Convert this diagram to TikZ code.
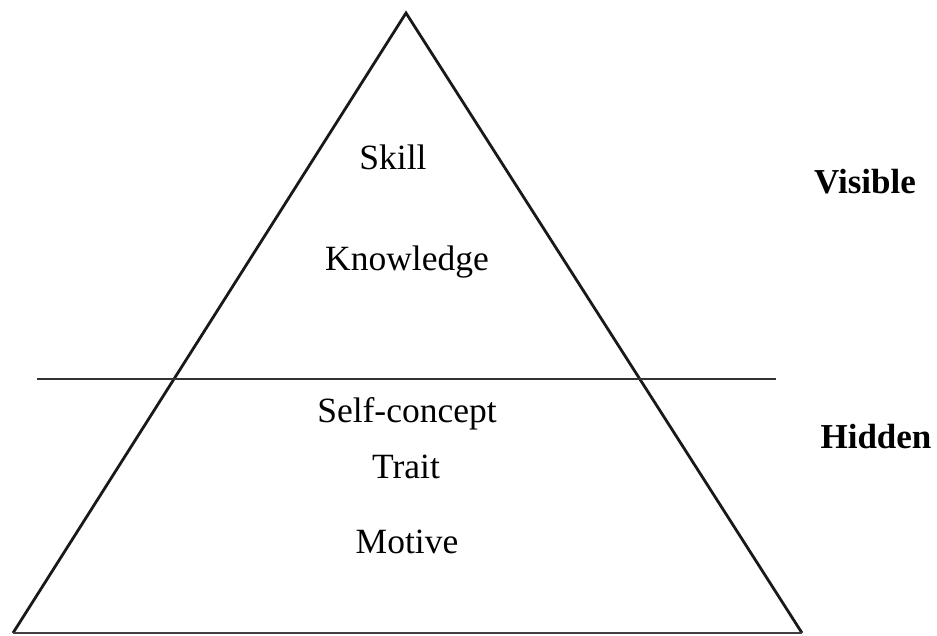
\documentclass[tikz,border=0pt]{standalone}
\usepackage{fontspec}
\setmainfont{Liberation Serif}
\begin{document}
\begin{tikzpicture}[x=1pt,y=-1pt,
  side/.style={line width=2.8pt,line join=miter,black!90},
  divider/.style={line width=2pt,black!80},
  label/.style={anchor=base,inner sep=0pt,font=\fontsize{35.5}{42}\selectfont},
  tag/.style={label,font=\fontsize{35}{42}\selectfont\bfseries}]
\useasboundingbox (0,0) rectangle (937,636);
\coordinate (apex) at (406,13);
\coordinate (bl) at (13,633);
\coordinate (br) at (802,633);
\coordinate (dl) at (37,379);
\coordinate (dr) at (776,379);
\draw[side] (bl) -- (apex) -- (br);
\draw[line width=2.2pt,black!75] (bl) -- (br);
\draw[divider] (dl) -- (dr);
\node[label] (skill) at (393,170) {Skill};
\node[label] (know) at (407,271) {Knowledge};
\node[label] (self) at (407,422) {Self-concept};
\node[label] (trait) at (406,478) {Trait};
\node[label] (motive) at (407,553) {Motive};
\node[tag] (vis) at (865,194) {Visible};
\node[tag] (hid) at (876,448) {Hidden};
\end{tikzpicture}
\end{document}
